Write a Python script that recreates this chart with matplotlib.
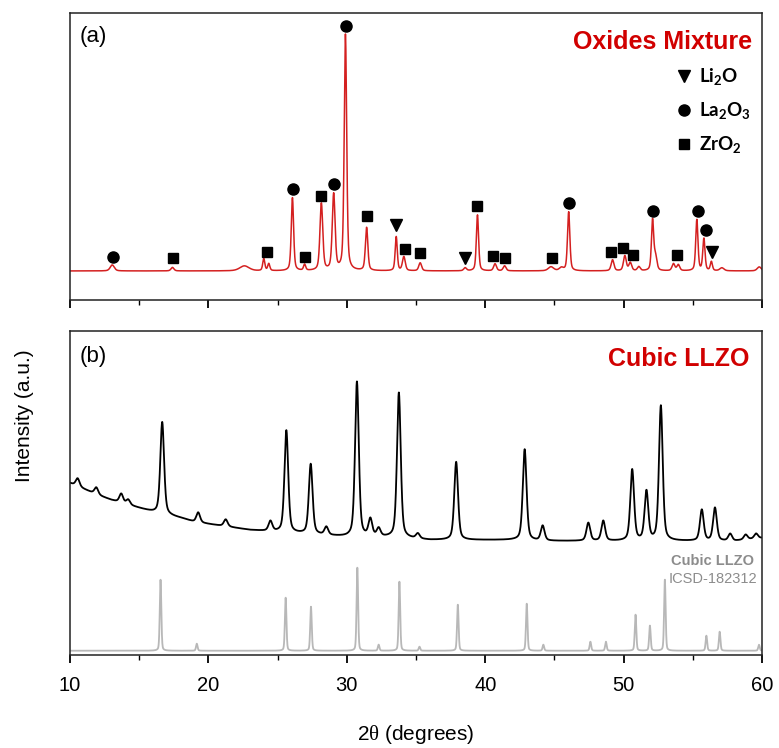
import matplotlib.pyplot as plt
import numpy as np
from matplotlib.lines import Line2D

plt.rcParams['font.family'] = ['Liberation Sans', 'DejaVu Sans']
plt.rcParams['mathtext.fontset'] = 'custom'
plt.rcParams['mathtext.rm'] = 'Liberation Serif'
plt.rcParams['mathtext.bf'] = 'Lato:bold'

# ---- (a) oxides mixture: peak table ----
ox_baseline = 29
ox_pos = [13.05, 17.4, 22.6, 24.0, 24.36, 26.07, 26.95, 28.16, 29.05, 29.9,
          31.43, 33.57, 34.12, 35.3, 38.55, 39.44, 40.71, 41.4, 44.75, 45.5,
          46.03, 49.2, 50.09, 50.48, 51.1, 52.09, 52.3, 53.6, 53.95, 55.29,
          55.8, 56.34, 57.1, 59.8]
ox_height = [6, 3.5, 5, 12, 7, 73, 6, 67, 76, 236,
             43, 34, 14, 8, 3, 56, 7, 5, 4, 3,
             59, 11, 15, 8, 4, 50, 14, 7, 6, 51,
             32, 9, 3, 4]
ox_width = [0.35, 0.25, 0.8, 0.18, 0.18, 0.2, 0.18, 0.24, 0.24, 0.21,
            0.21, 0.18, 0.24, 0.24, 0.24, 0.19, 0.24, 0.24, 0.45, 0.35,
            0.2, 0.24, 0.24, 0.24, 0.24, 0.19, 0.24, 0.24, 0.24, 0.19,
            0.19, 0.18, 0.35, 0.35]

# phase markers (2theta, height)
la2o3_x = [13.1, 26.1, 29.07, 29.96, 46.05, 52.11, 55.36, 55.94]
la2o3_y = [43, 111, 116, 274, 97, 89, 89, 70]
zro2_x = [17.45, 24.2, 27.0, 28.16, 31.43, 34.2, 35.3, 39.39, 40.57, 41.46,
          44.8, 49.1, 49.95, 50.7, 53.85]
zro2_y = [42, 48, 43, 104, 84, 51, 47, 94, 44, 42,
          42, 48, 52, 45, 45]
li2o_x = [33.57, 38.55, 56.4]
li2o_y = [75, 42, 48]

# ---- (b) cubic LLZO measured pattern ----
llzo_bg_x = [10, 11, 12, 13, 14, 15, 16, 17, 18, 19, 20, 21, 22, 23, 24, 25,
             26, 27, 28, 29, 30, 32, 34, 36, 38, 40, 42, 44, 46, 48, 50, 52,
             54, 56, 58, 60]
llzo_bg_y = [172, 166, 160, 155, 151, 147, 143, 140, 137, 133, 131, 129, 127,
             125, 124, 123, 122, 121, 120, 119, 118, 118, 117, 115, 115, 115,
             115, 114, 114, 114, 114, 114, 114, 114, 114, 117]
llzo_pos = [10.55, 11.9, 13.7, 14.2, 16.66, 19.26, 21.25, 24.48, 25.63, 27.39,
            28.52, 30.73, 31.7, 32.3, 33.76, 35.13, 37.9, 42.85, 44.15, 47.45,
            48.53, 50.62, 51.65, 52.69, 55.65, 56.6, 57.7, 58.82, 59.57]
llzo_height = [8, 7, 9, 5, 92, 10, 7, 10, 102, 70,
               8, 155, 17, 8, 145, 5, 78, 91, 15, 18,
               20, 71, 49, 135, 31, 33, 7, 5, 5]
llzo_width = 0.32

# ---- (b) reference ICSD-182312 ----
ref_baseline = 4.3
ref_pos = [16.54, 19.16, 25.58, 27.41, 30.76, 32.3, 33.8, 35.25, 38.02, 43.0,
           44.2, 47.6, 48.72, 50.86, 51.9, 52.98, 55.98, 56.94, 59.78]
ref_height = [71, 7, 53, 44, 83, 6, 69, 4, 46, 47,
              6, 9, 9, 36, 25, 71, 15, 19, 6]
ref_width = 0.13

x_ticks = [10, 20, 30, 40, 50, 60]


def pvoigt(x, pos, height, width, eta=0.45):
    # sum of pseudo-Voigt peaks
    width = np.broadcast_to(width, np.shape(pos))
    y = np.zeros_like(x)
    for c, h, w in zip(pos, height, width):
        d = (x - c) / (w / 2)
        y += h * (eta / (1 + d ** 2) + (1 - eta) * np.exp(-np.log(2) * d ** 2))
    return y


tt = np.linspace(10, 60, 5001)
red = '#d10000'

fig = plt.figure(figsize=(7.79, 7.48), dpi=100)
ax1 = fig.add_axes([0.0899, 0.599, 0.8883, 0.3841])
ax2 = fig.add_axes([0.0899, 0.1243, 0.8883, 0.4332])

# --- panel (a) ---
ax1.plot(tt, ox_baseline + pvoigt(tt, ox_pos, ox_height, ox_width), color='#d42020', lw=1.1)
ax1.plot(la2o3_x, la2o3_y, 'o', color='black', ms=8, ls='none')
ax1.plot(zro2_x, zro2_y, 's', color='black', ms=7.5, ls='none')
ax1.plot(li2o_x, li2o_y, 'v', color='black', ms=9, ls='none')
ax1.set_ylim(0, 287.3)
ax1.text(0.014, 0.955, '(a)', transform=ax1.transAxes, fontsize=16, va='top', ha='left')
ax1.text(0.985, 0.94, 'Oxides Mixture', transform=ax1.transAxes, fontsize=18,
         fontweight='bold', color=red, va='top', ha='right')
handles = [Line2D([], [], marker='v', color='black', ls='none', ms=9),
           Line2D([], [], marker='o', color='black', ls='none', ms=8),
           Line2D([], [], marker='s', color='black', ls='none', ms=7.5)]
labels = [r'$\mathbf{Li_2O}$', r'$\mathbf{La_2O_3}$', r'$\mathbf{ZrO_2}$']
ax1.legend(handles, labels, loc='upper right', bbox_to_anchor=(0.995, 0.84),
           frameon=False, fontsize=13.5, handletextpad=0.3, labelspacing=0.7,
           handlelength=1.0, borderaxespad=0)

# --- panel (b) ---
llzo = np.interp(tt, llzo_bg_x, llzo_bg_y) + pvoigt(tt, llzo_pos, llzo_height, llzo_width)
ax2.plot(tt, llzo, color='black', lw=1.3)
ax2.plot(tt, ref_baseline + pvoigt(tt, ref_pos, ref_height, ref_width, eta=0.3),
         color='#b8b8b8', lw=1.3)
ax2.set_ylim(0, 324)
ax2.text(0.014, 0.955, '(b)', transform=ax2.transAxes, fontsize=16, va='top', ha='left')
ax2.text(0.982, 0.95, 'Cubic LLZO', transform=ax2.transAxes, fontsize=18,
         fontweight='bold', color=red, va='top', ha='right')
ax2.text(0.988, 0.29, 'Cubic LLZO', transform=ax2.transAxes, fontsize=10.5,
         fontweight='bold', color='#8c8c8c', va='center', ha='right')
ax2.text(0.993, 0.235, 'ICSD-182312', transform=ax2.transAxes, fontsize=10.5,
         color='#8c8c8c', va='center', ha='right')

for ax in (ax1, ax2):
    ax.set_xlim(10, 60)
    ax.set_xticks(x_ticks)
    ax.set_xticks(np.arange(15, 60, 10), minor=True)
    ax.set_yticks([])
    ax.tick_params(axis='x', which='major', direction='out', length=6, width=1.3,
                   labelsize=14.5, pad=9)
    ax.tick_params(axis='x', which='minor', direction='out', length=3.5, width=1.0)
    for sp in ax.spines.values():
        sp.set_linewidth(1.1)
        sp.set_color('#222222')
ax1.tick_params(axis='x', labelbottom=False)

fig.text(0.031, 0.444, 'Intensity (a.u.)', rotation=90, fontsize=15, ha='center', va='center')
fig.text(0.534, 0.0174, r'2$\mathrm{\theta}$ (degrees)', fontsize=15, ha='center', va='center')

fig.savefig('out.png', dpi=100)
